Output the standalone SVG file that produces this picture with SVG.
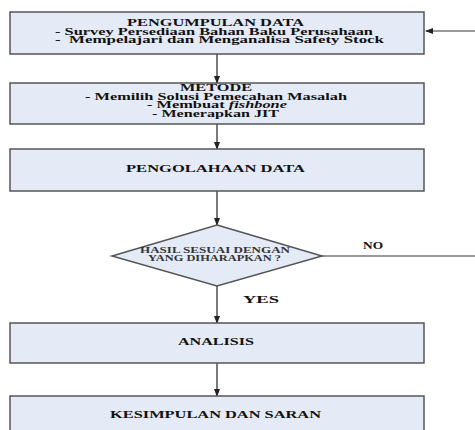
<svg xmlns="http://www.w3.org/2000/svg" width="475" height="430" viewBox="0 0 475 430">
<style>
.box{fill:#E5EBF6;stroke:#555;stroke-width:1.5}
.t{font-family:"Liberation Serif","Times New Roman",serif;font-weight:bold;font-size:9.5px;fill:#111}
.s{font-family:"Liberation Serif","Times New Roman",serif;font-weight:bold;font-size:7.5px;fill:#333}
.c{stroke:#333;stroke-width:1.3;fill:none}
.g{stroke:#777;stroke-width:1.3;fill:none}
</style>
<defs>
<marker id="ah" markerWidth="8" markerHeight="6" refX="7" refY="3" orient="auto" markerUnits="userSpaceOnUse">
<path d="M0,0 L8,3 L0,6 Z" fill="#222"/>
</marker>
</defs>
<rect width="475" height="430" fill="#fff"/>
<g id="connectors">
<line class="c" x1="217" y1="54" x2="217" y2="83" marker-end="url(#ah)"/>
<line class="c" x1="217" y1="124" x2="217" y2="149" marker-end="url(#ah)"/>
<line class="c" x1="217" y1="191" x2="217" y2="225" marker-end="url(#ah)"/>
<line class="c" x1="217" y1="286" x2="217" y2="323" marker-end="url(#ah)"/>
<line class="c" x1="217" y1="363" x2="217" y2="396" marker-end="url(#ah)"/>
<line class="g" x1="322" y1="256" x2="475" y2="256"/>
<line class="g" x1="475" y1="31" x2="426" y2="31" marker-end="url(#ah)"/>
<text class="t" x="363" y="249" textLength="20" lengthAdjust="spacingAndGlyphs">NO</text>
<text class="t" x="243" y="303" textLength="36" lengthAdjust="spacingAndGlyphs">YES</text>
</g>
<g id="pengumpulan">
<rect class="box" x="10" y="12" width="414" height="42"/>
<text class="t" x="127" y="26" textLength="177" lengthAdjust="spacingAndGlyphs">PENGUMPULAN DATA</text>
<text class="t" x="55" y="34.5" textLength="318" lengthAdjust="spacingAndGlyphs">- Survey Persediaan Bahan Baku Perusahaan</text>
<text class="t" x="55" y="43" textLength="329" lengthAdjust="spacingAndGlyphs" xml:space="preserve">-  Mempelajari dan Menganalisa Safety Stock</text>
</g>
<g id="metode">
<rect class="box" x="10" y="83" width="414" height="41"/>
<text class="t" x="180" y="91" textLength="72" lengthAdjust="spacingAndGlyphs">METODE</text>
<text class="t" x="85" y="99.5" textLength="262" lengthAdjust="spacingAndGlyphs">- Memilih Solusi Pemecahan Masalah</text>
<text class="t" x="147" y="108" textLength="140" lengthAdjust="spacingAndGlyphs">- Membuat <tspan font-style="italic">fishbone</tspan></text>
<text class="t" x="152" y="116.5" textLength="127" lengthAdjust="spacingAndGlyphs">- Menerapkan JIT</text>
</g>
<g id="pengolahan">
<rect class="box" x="10" y="149" width="414" height="42"/>
<text class="t" x="126" y="172" textLength="179" lengthAdjust="spacingAndGlyphs">PENGOLAHAAN DATA</text>
</g>
<g id="keputusan">
<polygon class="box" points="217,225 322,256 217,286 112,256"/>
<text class="s" x="140" y="253" textLength="150" lengthAdjust="spacingAndGlyphs">HASIL SESUAI DENGAN</text>
<text class="s" x="148" y="261" textLength="133" lengthAdjust="spacingAndGlyphs">YANG DIHARAPKAN ?</text>
</g>
<g id="analisis">
<rect class="box" x="10" y="323" width="414" height="40"/>
<text class="t" x="178" y="344.5" textLength="76" lengthAdjust="spacingAndGlyphs">ANALISIS</text>
</g>
<g id="kesimpulan">
<rect class="box" x="10" y="396" width="414" height="40"/>
<text class="t" x="110" y="418" textLength="211" lengthAdjust="spacingAndGlyphs">KESIMPULAN DAN SARAN</text>
</g>
</svg>
